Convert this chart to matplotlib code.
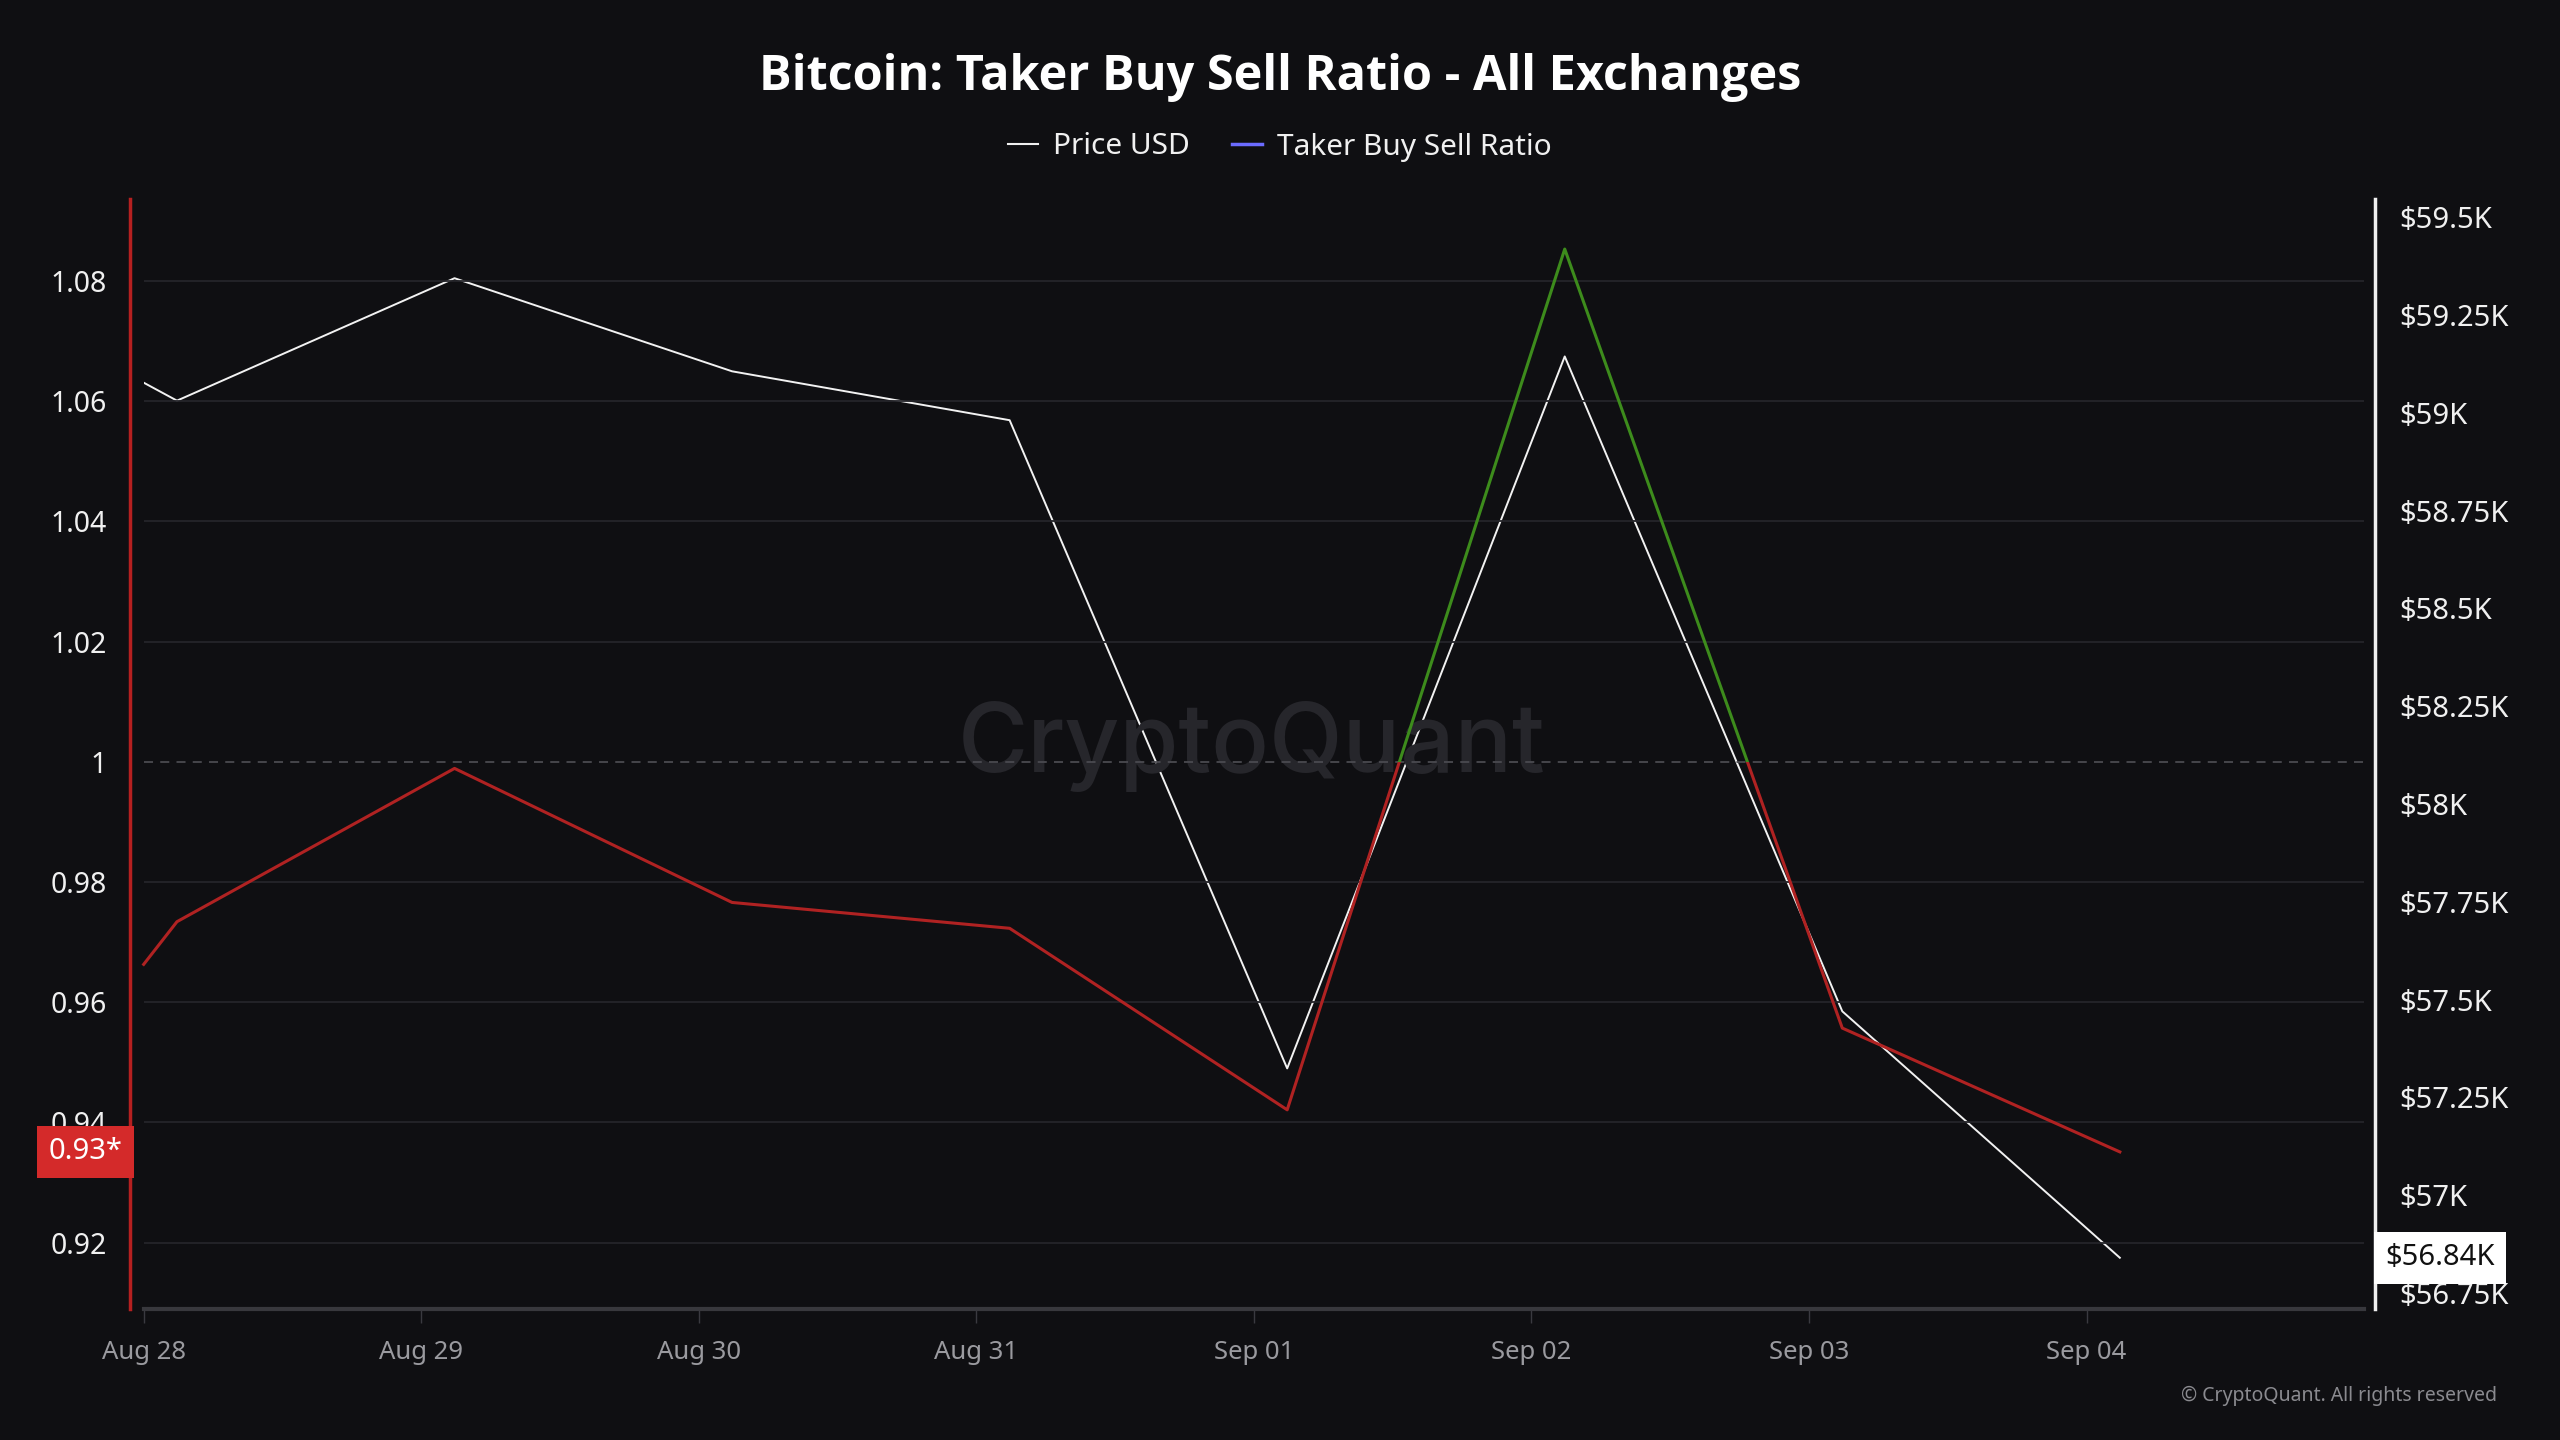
import matplotlib
matplotlib.use("Agg")
import matplotlib.pyplot as plt
import matplotlib.transforms as mtransforms
from matplotlib.patches import Rectangle
from matplotlib.lines import Line2D

# data (x = days since Aug 28 00:00)
x_days = [0.0, 0.12, 1.12, 2.12, 3.12, 4.12, 5.12, 6.12, 7.12]
ratio = [0.9663, 0.9734, 0.9989, 0.9766, 0.9723, 0.9421, 1.0853, 0.9557, 0.9351]
price = [59077, 59031, 59344, 59106, 58981, 57324, 59144, 57470, 56840]

day_ticks = [0, 1, 2, 3, 4, 5, 6, 7]
day_labels = ["Aug 28", "Aug 29", "Aug 30", "Aug 31", "Sep 01", "Sep 02", "Sep 03", "Sep 04"]
ratio_ticks = [0.92, 0.94, 0.96, 0.98, 1.0, 1.02, 1.04, 1.06, 1.08]
price_ticks = [56750, 57000, 57250, 57500, 57750, 58000, 58250, 58500, 58750, 59000, 59250, 59500]
last_ratio_label = "0.93*"
last_price_label = "$56.84K"

bg = "#0f0f12"
plt.rcParams['font.family'] = ['Noto Sans', 'DejaVu Sans']

fig = plt.figure(figsize=(25.6, 14.4), dpi=100, facecolor=bg)
ax = fig.add_axes([88/1568, 80/882, 1360/1568, 680/882])
ax.set_facecolor(bg)
ax2 = ax.twinx()

ax.set_xlim(0, 8)
ax.set_ylim(0.9089, 1.0936)
ax2.set_ylim(56708, 59546)

# watermark
fig.text(766.5/1568, 1 - 746/1440, "CryptoQuant", fontsize=69, color="#26262b",
         ha="center", va="center", family=["Inter", "DejaVu Sans"], fontweight="medium", zorder=0)

# grid
for t in ratio_ticks:
    if abs(t - 1.0) < 1e-9:
        ax.axhline(t, color="#4a4a50", lw=1.3, ls=(0, (5, 4)), zorder=1)
    else:
        ax.axhline(t, color="#25252a", lw=1.3, zorder=1)

# price line (white)
ax2.plot(x_days, price, color="#f2f2f2", lw=1.4, zorder=3)

# ratio line: green above 1, red below 1
lo, hi = ax.get_ylim()
for color, y0, y1 in [("#b02222", lo - 1, 1.0), ("#3d8c1c", 1.0, hi + 1)]:
    ln, = ax.plot(x_days, ratio, color=color, lw=2.2, zorder=4)
    clip = Rectangle((-10, y0), 30, y1 - y0, transform=ax.transData)
    ln.set_clip_path(clip)

ax.set_zorder(ax2.get_zorder() + 1)
ax.patch.set_visible(False)
ax2.patch.set_visible(False)

# spines
for a in (ax, ax2):
    for s in a.spines.values():
        s.set_visible(False)
ax.spines['left'].set_visible(True)
ax.spines['left'].set_color("#b52020")
ax.spines['left'].set_linewidth(2.5)
ax.spines['left'].set_position(('outward', 9.5))
ax2.spines['right'].set_visible(True)
ax2.spines['right'].set_color("#f0f0f0")
ax2.spines['right'].set_linewidth(2.5)
ax2.spines['right'].set_position(('outward', 8))
ax.spines['bottom'].set_visible(True)
ax.spines['bottom'].set_color("#38383d")
ax.spines['bottom'].set_linewidth(3)

ax.set_yticks(ratio_ticks)
ax.set_yticklabels([f"{round(t, 2):g}" for t in ratio_ticks])
ax.tick_params(axis='y', length=0, pad=17, labelsize=20.5, labelcolor="#f0f0f0")
ax2.set_yticks(price_ticks)
ax2.set_yticklabels([f"${p/1000:g}K" for p in price_ticks])
ax2.tick_params(axis='y', length=0, pad=17, labelsize=21, labelcolor="#f0f0f0")

ax.set_xticks(day_ticks)
ax.set_xticklabels(day_labels)
ax.tick_params(axis='x', length=10, width=1, color="#3a3a40", pad=12, labelsize=18.5, labelcolor="#9a9a9f")

# value tags
tr_left = mtransforms.blended_transform_factory(fig.transFigure, ax.transData)
ax.text(52.5/1568, ratio[-1], last_ratio_label, transform=tr_left, ha="center", va="center",
        fontsize=21, color="white", zorder=10, clip_on=False,
        bbox=dict(boxstyle="square,pad=0.4", fc="#d42a2a", ec="none"))
tr_right = mtransforms.blended_transform_factory(fig.transFigure, ax2.transData)
ax2.text(1494.5/1568, price[-1], last_price_label, transform=tr_right, ha="center", va="center",
         fontsize=21, color="#111111", zorder=10, clip_on=False,
         bbox=dict(boxstyle="square,pad=0.4", fc="#ffffff", ec="none"))

# title and legend
fig.text(0.5, 1 - 77/1440, "Bitcoin: Taker Buy Sell Ratio - All Exchanges", ha="center", va="center",
         fontsize=35, fontweight="bold", color="#ffffff", family=["Open Sans", "DejaVu Sans"])
handles = [Line2D([], [], color="#f0f0f0", lw=1.5), Line2D([], [], color="#6b6bff", lw=2.5)]
fig.legend(handles, ["Price USD", "Taker Buy Sell Ratio"], loc="center", bbox_to_anchor=(0.5, 1 - 147/1440),
           ncol=2, frameon=False, fontsize=21.5, labelcolor="#f0f0f0", handlelength=1.0,
           handletextpad=0.5, columnspacing=1.4)

fig.text(2497/2560, 1 - 1396/1440, "\u00a9 CryptoQuant. All rights reserved", ha="right", va="center",
         fontsize=14, color="#8a8a8f")

fig.savefig("out.png", dpi=100, facecolor=bg)
